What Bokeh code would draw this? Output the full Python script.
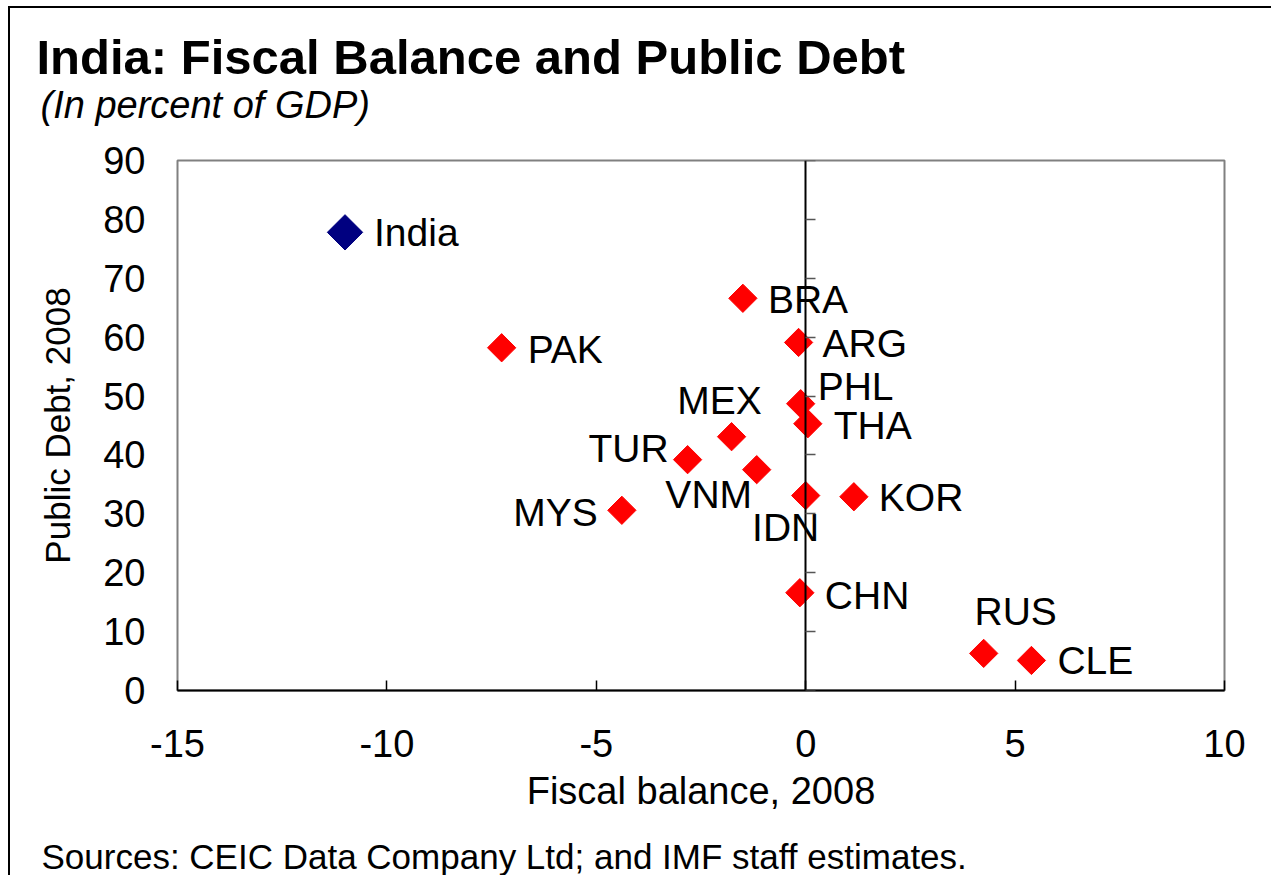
from bokeh.plotting import figure
from bokeh.models import (ColumnDataSource, LinearAxis, FixedTicker, Range1d,
                          Title, CustomJSTickFormatter)
from bokeh.core.properties import value
from bokeh.embed import file_html
from bokeh.resources import INLINE
import numpy as np

# ---- data ----
countries = ["India", "PAK", "BRA", "ARG", "PHL", "THA", "MEX", "TUR",
             "VNM", "MYS", "IDN", "KOR", "CHN", "RUS", "CLE"]
fiscal_balance = [-11.0, -7.26, -1.50, -0.17, -0.12, 0.05, -1.77, -2.82,
                  -1.17, -4.39, 0.0, 1.15, -0.14, 4.25, 5.39]
public_debt = [77.8, 58.2, 66.6, 59.1, 48.7, 45.3, 43.1, 39.2,
               37.5, 30.6, 33.1, 32.9, 16.6, 6.3, 5.1]
x_ticks = [-15, -10, -5, 0, 5, 10]
y_ticks = [0, 10, 20, 30, 40, 50, 60, 70, 80, 90]

# ---- label placement (styling, not data) ----
label_dx = [29, 26, 25, 24, 17, 26, -12, -19, -48, -24, -20, 25, 25, 32, 26]
label_dy = [0, 2, 1, 1, -17, 2, -36, -11, 25, 2, 32, 1, 3, -42, 0]
label_align = ["left", "left", "left", "left", "left", "left", "center", "right",
               "center", "right", "center", "left", "left", "center", "left"]

is_india = [c == "India" for c in countries]
colors = ["#000080" if i else "#FF0000" for i in is_india]
sizes = [25 if i else 20 for i in is_india]

src = ColumnDataSource(dict(x=fiscal_balance, y=public_debt, name=countries,
                            color=colors, size=sizes, dx=label_dx, dy=label_dy,
                            align=label_align))

FONT = "Liberation Sans"
plain = CustomJSTickFormatter(code="return String(tick)")

p = figure(width=1263, height=869, output_backend="svg", toolbar_location=None,
           x_range=Range1d(-15, 10), y_range=Range1d(0, 90),
           min_border_left=167, min_border_right=49, min_border_top=152,
           min_border_bottom=187, background_fill_color="white",
           border_fill_color="white",
           styles={"margin-left": "8px", "margin-top": "6px",
                   "border-left": "2px solid black",
                   "border-top": "2px solid black"})
p.grid.visible = False
p.outline_line_color = "#808080"
p.outline_line_width = 2

# x axis (bottom)
xa = p.xaxis[0]
xa.ticker = FixedTicker(ticks=x_ticks)
xa.formatter = plain
xa.axis_line_color = "black"
xa.axis_line_width = 2
xa.major_tick_in = 10
xa.major_tick_out = 0
xa.major_tick_line_color = "black"
xa.major_tick_line_width = 1.5
xa.minor_tick_line_color = None
xa.major_label_text_font = FONT
xa.major_label_text_font_size = "38px"
xa.major_label_text_color = "black"
xa.major_label_standoff = 39
xa.axis_label = "Fiscal balance, 2008"
xa.axis_label_text_font = FONT
xa.axis_label_text_font_size = "38px"
xa.axis_label_text_font_style = "normal"
xa.axis_label_text_color = "black"
xa.axis_label_standoff = 10

# y axis labels (left)
ya = p.yaxis[0]
ya.ticker = FixedTicker(ticks=y_ticks)
ya.formatter = plain
ya.axis_line_color = None
ya.major_tick_line_color = None
ya.minor_tick_line_color = None
ya.major_tick_in = 0
ya.major_tick_out = 0
ya.major_label_text_font = FONT
ya.major_label_text_font_size = "38px"
ya.major_label_text_color = "black"
ya.major_label_standoff = 32
ya.axis_label = "Public Debt, 2008"
ya.axis_label_text_font = FONT
ya.axis_label_text_font_size = "35px"
ya.axis_label_text_font_style = "normal"
ya.axis_label_text_color = "black"
ya.axis_label_standoff = 23

# vertical axis line crossing at x = 0 with ticks pointing right
y0 = LinearAxis(fixed_location=0, ticker=FixedTicker(ticks=y_ticks))
y0.axis_line_color = "black"
y0.axis_line_width = 2
y0.major_tick_in = 10
y0.major_tick_out = 0
y0.major_tick_line_color = "#555555"
y0.major_tick_line_width = 1.5
y0.minor_tick_line_color = None
y0.major_label_text_font_size = "0px"
y0.major_label_text_color = None
y0.major_label_standoff = 0
p.add_layout(y0, "left")

p.scatter("x", "y", source=src, marker="square", size="size", angle=np.pi / 4,
          fill_color="color", line_color="color")

p.text("x", "y", text="name", source=src, x_offset="dx", y_offset="dy",
       text_align="align", text_baseline="middle", text_font=value(FONT),
       text_font_size="39px", text_color="black")

# header (first added sits nearest the plot; standoff sets the vertical place)
p.add_layout(Title(text="(In percent of GDP)", align="left", offset=-137,
                   text_font=FONT, text_font_size="38px",
                   text_font_style="italic", text_color="black", standoff=70),
             "above")
p.add_layout(Title(text="India: Fiscal Balance and Public Debt", align="left",
                   offset=-141, text_font=FONT, text_font_size="49px",
                   text_font_style="bold", text_color="black", standoff=-75),
             "above")

# footer: a blank axis (one white tick, no labels) reserves the gap above it
gap = LinearAxis(ticker=FixedTicker(ticks=[x_ticks[0]]))
gap.axis_line_color = None
gap.major_tick_in = 0
gap.major_tick_out = 20
gap.major_tick_line_color = "white"
gap.minor_tick_line_color = None
gap.major_label_text_font_size = "0px"
gap.major_label_text_color = None
gap.major_label_standoff = 0
gap.axis_label_standoff = 0
p.add_layout(gap, "below")
p.add_layout(Title(text="Sources: CEIC Data Company Ltd; and IMF staff estimates.",
                   align="left", offset=-136, text_font=FONT,
                   text_font_size="35px", text_font_style="normal",
                   text_color="black", standoff=0),
             "below")

open("out.html", "w").write(file_html(p, INLINE))
